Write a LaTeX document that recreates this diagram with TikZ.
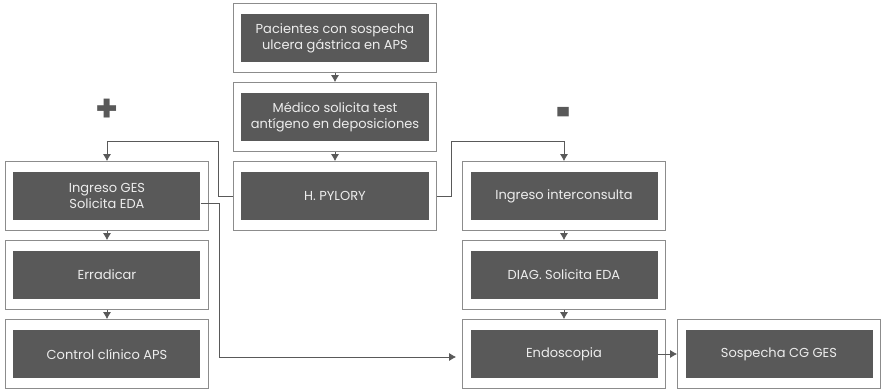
\documentclass[tikz,border=0pt]{standalone}
\usepackage{fontspec}
\setmainfont{Poppins}
\usepackage{xcolor}
\usepackage{tikz}
\usetikzlibrary{
  positioning,
  arrows.meta,
  fit
}
\definecolor{cajagris}{HTML}{595959}
\definecolor{bordegris}{HTML}{8C8C8C}
\definecolor{textoclaro}{HTML}{EDEDED}
\tikzset{
  >=Latex,
  flowarrow/.style={-{Latex[length=7pt,width=8pt]},line width=0.9pt,draw=cajagris},
  paso/.style={rectangle,fill=cajagris,text=textoclaro,align=center,minimum width=187pt,minimum height=48pt,inner sep=2pt,font=\fontsize{13}{16}\selectfont},
  marco/.style={rectangle,draw=bordegris,line width=1.2pt,inner xsep=7.5pt,inner ysep=10pt},
  signo/.style={text=cajagris,inner sep=0pt,font=\fontsize{37}{37}\selectfont\bfseries}
}
\begin{document}
\begin{tikzpicture}[node distance=79pt, on grid]
    \useasboundingbox (-335pt,38pt) rectangle (546pt,-352pt);

    \node[paso] (pacientes) {Pacientes con sospecha\\ulcera gástrica en APS};
    \node[paso,below=of pacientes] (medico) {Médico solicita test\\antígeno en deposiciones};
    \node[paso,below=of medico] (pylory) {H. PYLORY};
    \node[paso,left=228pt of pylory] (ges) {Ingreso GES\\Solicita EDA};
    \node[paso,below=of ges] (erradicar) {Erradicar};
    \node[paso,below=of erradicar] (control) {Control clínico APS};
    \node[paso,right=229pt of pylory] (interconsulta) {Ingreso interconsulta};
    \node[paso,below=of interconsulta] (diag) {DIAG. Solicita EDA};
    \node[paso,below=of diag] (endoscopia) {Endoscopia};
    \node[paso,right=215pt of endoscopia] (sospecha) {Sospecha CG GES};

    \node[marco,fit=(pacientes)] (pacientes-box) {};
    \node[marco,fit=(medico)] (medico-box) {};
    \node[marco,fit=(pylory)] (pylory-box) {};
    \node[marco,fit=(ges)] (ges-box) {};
    \node[marco,fit=(erradicar)] (erradicar-box) {};
    \node[marco,fit=(control)] (control-box) {};
    \node[marco,fit=(interconsulta)] (interconsulta-box) {};
    \node[marco,fit=(diag)] (diag-box) {};
    \node[marco,fit=(endoscopia)] (endoscopia-box) {};
    \node[marco,fit=(sospecha)] (sospecha-box) {};

    \node[signo,above=86pt of ges] (positivo) {+};
    \node[signo,above=74.5pt of interconsulta] (negativo) {\scalebox{0.7}[1.8]{-}};

    \draw[flowarrow] (pacientes-box) -- (medico-box);
    \draw[flowarrow] (medico-box) -- (pylory-box);
    \draw[flowarrow] (pylory-box.west) -- ++(-15pt,0) |- ([yshift=20pt]ges-box.north) -- (ges-box.north);
    \draw[flowarrow] (pylory-box.east) -- ++(15pt,0) |- ([yshift=20pt]interconsulta-box.north) -- (interconsulta-box.north);
    \draw[flowarrow] (ges-box) -- (erradicar-box);
    \draw[flowarrow] (erradicar-box) -- (control-box);
    \draw[flowarrow] ([yshift=-7pt]ges.east) -- ++(19pt,0) |- ([xshift=-6pt,yshift=-3pt]endoscopia-box.west);
    \draw[flowarrow] (interconsulta-box) -- (diag-box);
    \draw[flowarrow] (diag-box) -- (endoscopia-box);
    \draw[flowarrow] (endoscopia.east) -- (sospecha-box.west);
\end{tikzpicture}
\end{document}
